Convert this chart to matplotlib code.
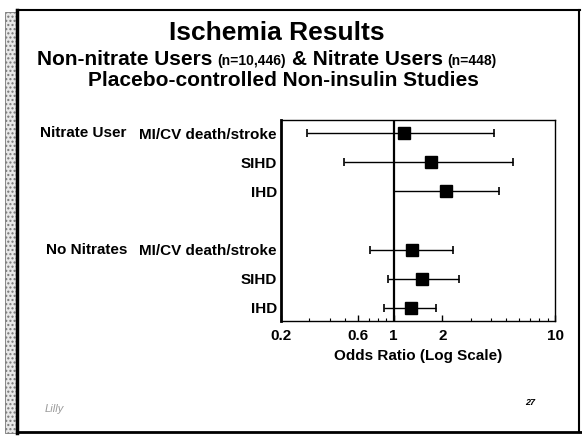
import matplotlib
matplotlib.use("Agg")
import matplotlib.pyplot as plt
from matplotlib.lines import Line2D
from matplotlib.patches import Rectangle
from matplotlib.transforms import blended_transform_factory
from matplotlib.ticker import FixedLocator, FixedFormatter, LogLocator, NullFormatter

plt.rcParams['font.family'] = ['Liberation Sans', 'DejaVu Sans']

# ---- data ----
groups = ["Nitrate User", "No Nitrates"]
outcomes = ["MI/CV death/stroke", "SIHD", "IHD"]
or_nitrate = [1.16, 1.70, 2.11]
lo_nitrate = [0.29, 0.49, 1.00]
hi_nitrate = [4.18, 5.48, 4.49]
or_nonitrate = [1.30, 1.50, 1.28]
lo_nonitrate = [0.71, 0.92, 0.87]
hi_nonitrate = [2.33, 2.54, 1.83]
xticks = [0.2, 0.6, 1, 2, 10]
xticklabels = ["0.2", "0.6", "1", "2", "10"]
title = "Ischemia Results"
subtitle_segments = [("Non-nitrate Users", "big"), ("(n=10,446)", "small"),
                     ("& Nitrate Users", "big"), ("(n=448)", "small")]
subtitle2 = "Placebo-controlled Non-insulin Studies"
xlabel = "Odds Ratio (Log Scale)"
page_number = "27"

W, H = 582, 444
fig = plt.figure(figsize=(W / 100, H / 100), dpi=100)
fig.patch.set_facecolor("white")

def fx(px):
    return px / W

def fy(py):
    return 1 - py / H

ax_left, ax_right, ax_top, ax_bottom = 281, 555, 120, 321
ax = fig.add_axes([fx(ax_left), fy(ax_bottom), fx(ax_right - ax_left), (ax_bottom - ax_top) / H])

rows_nit = [0, 1, 2]
rows_non = [4, 5, 6]

for rows, ors, los, his in [(rows_nit, or_nitrate, lo_nitrate, hi_nitrate),
                            (rows_non, or_nonitrate, lo_nonitrate, hi_nonitrate)]:
    for r, o, lo, hi in zip(rows, ors, los, his):
        ax.errorbar([o], [r], xerr=[[o - lo], [hi - o]], fmt='s', color='black',
                    ms=8, mec='black', mfc='black', elinewidth=1.0, capsize=3, capthick=1.2)

ax.axvline(1, color='black', lw=1.6, zorder=1)
ax.set_xscale('log')
ax.set_xlim(0.2, 10)
ax.set_ylim(6.45, -0.45)

ax.xaxis.set_major_locator(FixedLocator(xticks))
ax.xaxis.set_major_formatter(FixedFormatter(xticklabels))
ax.xaxis.set_minor_locator(LogLocator(base=10, subs=range(2, 10)))
ax.xaxis.set_minor_formatter(NullFormatter())
ax.tick_params(axis='x', which='major', direction='in', length=4, width=1, labelsize=11, pad=6)
ax.tick_params(axis='x', which='minor', direction='in', length=2.5, width=0.8)
for lab in ax.get_xticklabels():
    lab.set_fontweight('bold')

ax.set_yticks(rows_nit + rows_non)
ax.set_yticklabels(outcomes + outcomes, fontsize=11, fontweight='bold')
ax.tick_params(axis='y', length=0, pad=3)

ax.set_xlabel(xlabel, fontsize=11, fontweight='bold', labelpad=4)

for side in ['top', 'right', 'bottom']:
    ax.spines[side].set_linewidth(1.0)
ax.spines['left'].set_linewidth(2.0)

# group labels
tr = blended_transform_factory(fig.transFigure, ax.transData)
ax.text(fx(126), 0, groups[0], transform=tr, ha='right', va='center', fontsize=11, fontweight='bold')
ax.text(fx(127), 4, groups[1], transform=tr, ha='right', va='center', fontsize=11, fontweight='bold')

# titles
fig.text(fx(277), fy(33), title, ha='center', va='center', fontsize=19, fontweight='bold')

renderer = fig.canvas.get_renderer()
sizes = {"big": 15, "small": 10}
texts = []
for s, k in subtitle_segments:
    t = fig.text(0, fy(65), s, fontsize=sizes[k], fontweight='bold', ha='left', va='baseline')
    w = t.get_window_extent(renderer).width
    texts.append((t, w, k))
space = 0.28 * sizes["big"] * 100 / 72 * 0.9
total = sum(w for _, w, _ in texts) + space * (len(texts) - 1)
cx = 267
x = cx - total / 2
for i, (t, w, k) in enumerate(texts):
    if i > 0:
        x += space
    t.set_x(fx(x))
    x += w

fig.text(fx(283), fy(81), subtitle2, ha='center', va='center', fontsize=15, fontweight='bold')

# page number and logo
fig.text(fx(530), fy(402), page_number, ha='center', va='center', fontsize=6.5, fontweight='bold',
         style='italic')
fig.text(fx(45), fy(409), "Lilly", ha='left', va='center', fontsize=8, color='#9a9a9a',
         style='italic')

# slide border
border_lines = [
    ([17, 580], [10, 10], 1.5),
    ([17, 17], [10, 433], 2.5),
    ([17, 582], [432, 432], 2.0),
    ([579, 579], [10, 432], 1.5),
]
for xs, ys, lw in border_lines:
    fig.add_artist(Line2D([fx(v) for v in xs], [fy(v) for v in ys], color='black', lw=lw,
                          transform=fig.transFigure))
fig.add_artist(Rectangle((fx(5), fy(433)), fx(11), (433 - 12) / H, transform=fig.transFigure,
                         facecolor='#e8e8e8', edgecolor='#777777', hatch='....', lw=0.6))

fig.savefig("out.png", dpi=100)
